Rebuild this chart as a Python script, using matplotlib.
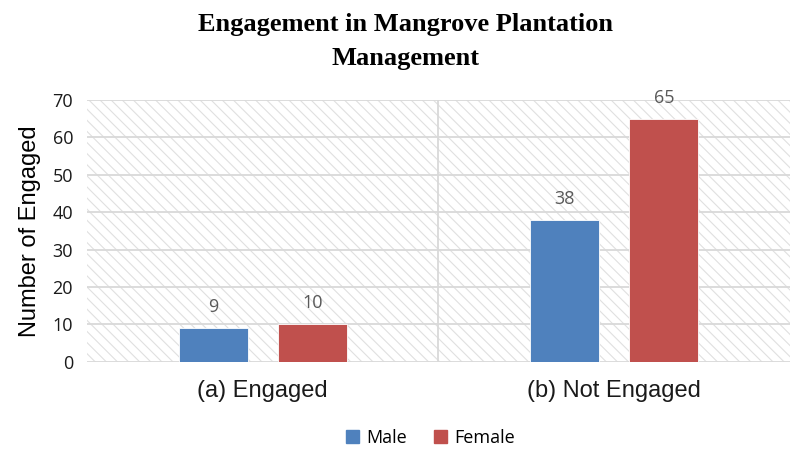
import numpy as np
import matplotlib
matplotlib.use("Agg")
import matplotlib.pyplot as plt
from matplotlib.patches import Rectangle, Patch

categories = ["(a) Engaged", "(b) Not Engaged"]
male = [9, 38]
female = [10, 65]
series_names = ["Male", "Female"]
yticks = [0, 10, 20, 30, 40, 50, 60, 70]

BLUE = "#4f81bd"
RED = "#c0504d"
GRID = "#d9d9d9"
TXT = "#595959"

plt.rcParams["hatch.linewidth"] = 0.8

fig = plt.figure(figsize=(7.9, 4.5), dpi=100)
ax = fig.add_axes([0.110, 0.196, 0.890, 0.582])

# hatched plot-area background
ax.add_patch(Rectangle((0, 0), 1, 1, transform=ax.transAxes, facecolor="white",
                       edgecolor="#e0e0e0", hatch="\\\\\\", lw=0, zorder=0))

x = np.arange(len(categories))
w = 0.196
off = 0.141
b1 = ax.bar(x - off, male, w, color=BLUE, edgecolor="white", lw=0.6, zorder=3)
b2 = ax.bar(x + off, female, w, color=RED, edgecolor="white", lw=0.6, zorder=3)

for bars, vals in ((b1, male), (b2, female)):
    for b, v in zip(bars, vals):
        ax.text(b.get_x() + b.get_width() / 2, v + 3.2, str(v), ha="center", va="bottom",
                fontsize=13, color=TXT, family="Open Sans", zorder=4)

ax.set_xlim(-0.5, 1.5)
ax.set_ylim(0, 70)
ax.set_yticks(yticks)
ax.set_yticklabels([str(t) for t in yticks], family="Open Sans", fontsize=13, color="#1a1a1a")
ax.set_xticks(x)
ax.set_xticklabels(categories, family="Liberation Sans", fontsize=17, color="#1a1a1a")
ax.tick_params(length=0, axis="both")
ax.tick_params(axis="x", pad=13)
ax.tick_params(axis="y", pad=10)

for t in yticks:
    ax.axhline(t, color=GRID, lw=1.3, zorder=1)
ax.axvline(0.5, color=GRID, lw=1.3, zorder=1)
for s in ax.spines.values():
    s.set_visible(False)

ax.set_ylabel("Number of Engaged", family="Liberation Sans", fontsize=17, labelpad=8)

fig.text(0.513, 0.97, "Engagement in Mangrove Plantation\nManagement", ha="center", va="top",
         family="Liberation Serif", fontweight="bold", fontsize=19, linespacing=1.6)

handles = [Patch(color=BLUE), Patch(color=RED)]
fig.legend(handles, series_names, loc="center", bbox_to_anchor=(0.545, 0.027), ncol=2,
           frameon=False, handlelength=0.7, handleheight=0.7, handletextpad=0.4,
           columnspacing=1.5, prop={"family": "Open Sans", "size": 13})

fig.savefig("out.png", dpi=100)
